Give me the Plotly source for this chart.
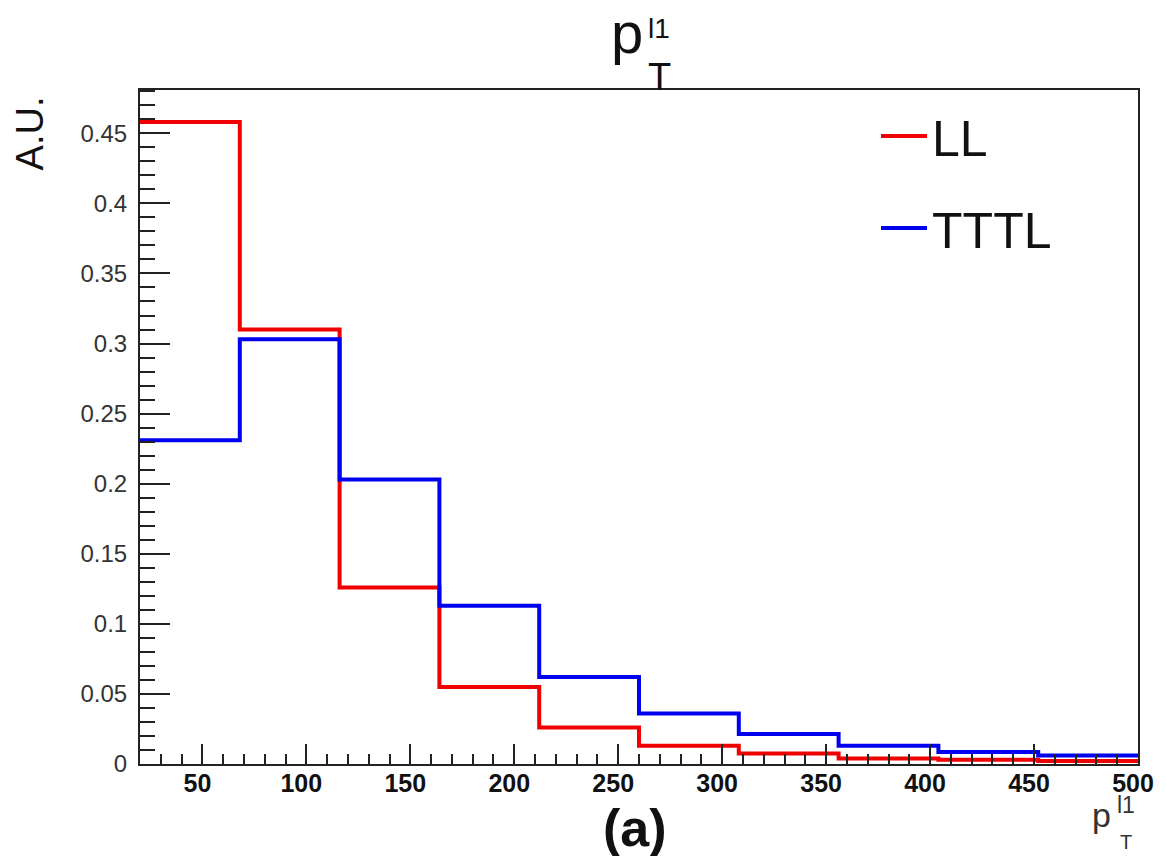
import plotly.graph_objects as go

# Histogram binning: 10 bins of 48 GeV from 20 to 500
bin_edges = [20, 68, 116, 164, 212, 260, 308, 356, 404, 452, 500]

# Normalised bin contents (arbitrary units)
ll_values = [0.458, 0.310, 0.126, 0.055, 0.026, 0.013, 0.0075, 0.004, 0.003, 0.0022]
tttl_values = [0.231, 0.303, 0.203, 0.113, 0.062, 0.036, 0.0214, 0.013, 0.0086, 0.006]

series_names = ["LL", "TTTL"]
series_colors = ["#f00000", "#0000f0"]

y_tick_vals = [0, 0.05, 0.1, 0.15, 0.2, 0.25, 0.3, 0.35, 0.4, 0.45]
y_tick_text = ["0", "0.05", "0.1", "0.15", "0.2", "0.25", "0.3", "0.35", "0.4", "0.45"]
x_tick_vals = [50, 100, 150, 200, 250, 300, 350, 400, 450, 500]

W, H = 1166, 856
ML, MR, MT, MB = 140, 24, 90, 92
PW, PH = W - ML - MR, H - MT - MB


def px(x):
    return (x - ML) / PW


def py(y):
    return (H - MB - y) / PH


fig = go.Figure()
for name, vals, col in zip(series_names, [ll_values, tttl_values], series_colors):
    # step outline: each bin level held from its low edge to the next edge
    fig.add_trace(go.Scatter(
        x=bin_edges,
        y=vals + [vals[-1]],
        mode="lines",
        line=dict(shape="hv", color=col, width=4),
        name=name,
        legendgroup=name,
    ))

font = "Liberation Sans, Arial, Helvetica, sans-serif"
ymax = max(ll_values + tttl_values) * 1.05

fig.update_layout(
    width=W, height=H,
    margin=dict(l=ML, r=MR, t=MT, b=MB),
    paper_bgcolor="white", plot_bgcolor="white",
    font=dict(family=font, color="black"),
    showlegend=True,
    legend=dict(
        x=px(879), y=py(97), xanchor="left", yanchor="top",
        font=dict(size=50, family=font, color="#111"),
        bgcolor="rgba(0,0,0,0)", borderwidth=0,
        traceorder="grouped", tracegroupgap=24,
        itemwidth=46,
    ),
    xaxis=dict(
        range=[20, 500], showgrid=False, zeroline=False,
        showline=True, mirror=True, linecolor="#222", linewidth=2,
        ticks="inside", ticklen=20, tickwidth=2, tickcolor="#222",
        tickvals=x_tick_vals,
        tickfont=dict(size=25, family=font, color="#111", weight="bold"),
        ticklabelstandoff=-4, ticklabelshift=-5,
        minor=dict(dtick=10, ticks="inside", ticklen=10, tickwidth=2, tickcolor="#222", showgrid=False),
    ),
    yaxis=dict(
        range=[0, ymax], showgrid=False, zeroline=False,
        showline=True, mirror=True, linecolor="#222", linewidth=2,
        ticks="inside", ticklen=30, tickwidth=2, tickcolor="#222",
        tickvals=y_tick_vals, ticktext=y_tick_text,
        tickfont=dict(size=24, family=font, color="#333"),
        ticklabelstandoff=6,
        minor=dict(dtick=0.01, ticks="inside", ticklen=15, tickwidth=2, tickcolor="#222", showgrid=False),
    ),
)

annotations = [
    # title p_T^{l1}
    dict(text="p", x=px(629), y=py(32), font=dict(size=58, family=font, color="#111")),
    dict(text="l1", x=px(661), y=py(29), font=dict(size=28, family=font, color="#111")),
    dict(text="T", x=px(662), y=py(77), font=dict(size=38, family=font, color="#111")),
    # x-axis title p_T^{l1}
    dict(text="p", x=px(1105), y=py(815), font=dict(size=34, family=font, color="#333")),
    dict(text="l1", x=px(1130), y=py(805), font=dict(size=23, family=font, color="#333")),
    dict(text="T", x=px(1130), y=py(842), font=dict(size=20, family=font, color="#333")),
    # y-axis title
    dict(text="A.U.", x=px(30), y=py(94), yanchor="top", textangle=-90,
         font=dict(size=38, family=font, color="#111")),
    # panel label
    dict(text="(a)", x=px(637), y=py(828), font=dict(size=52, family=font, color="#111", weight="bold")),
]
for a in annotations:
    a.setdefault("xanchor", "center")
    a.setdefault("yanchor", "middle")
    fig.add_annotation(xref="paper", yref="paper", showarrow=False, **a)

fig.write_html("out.html")
